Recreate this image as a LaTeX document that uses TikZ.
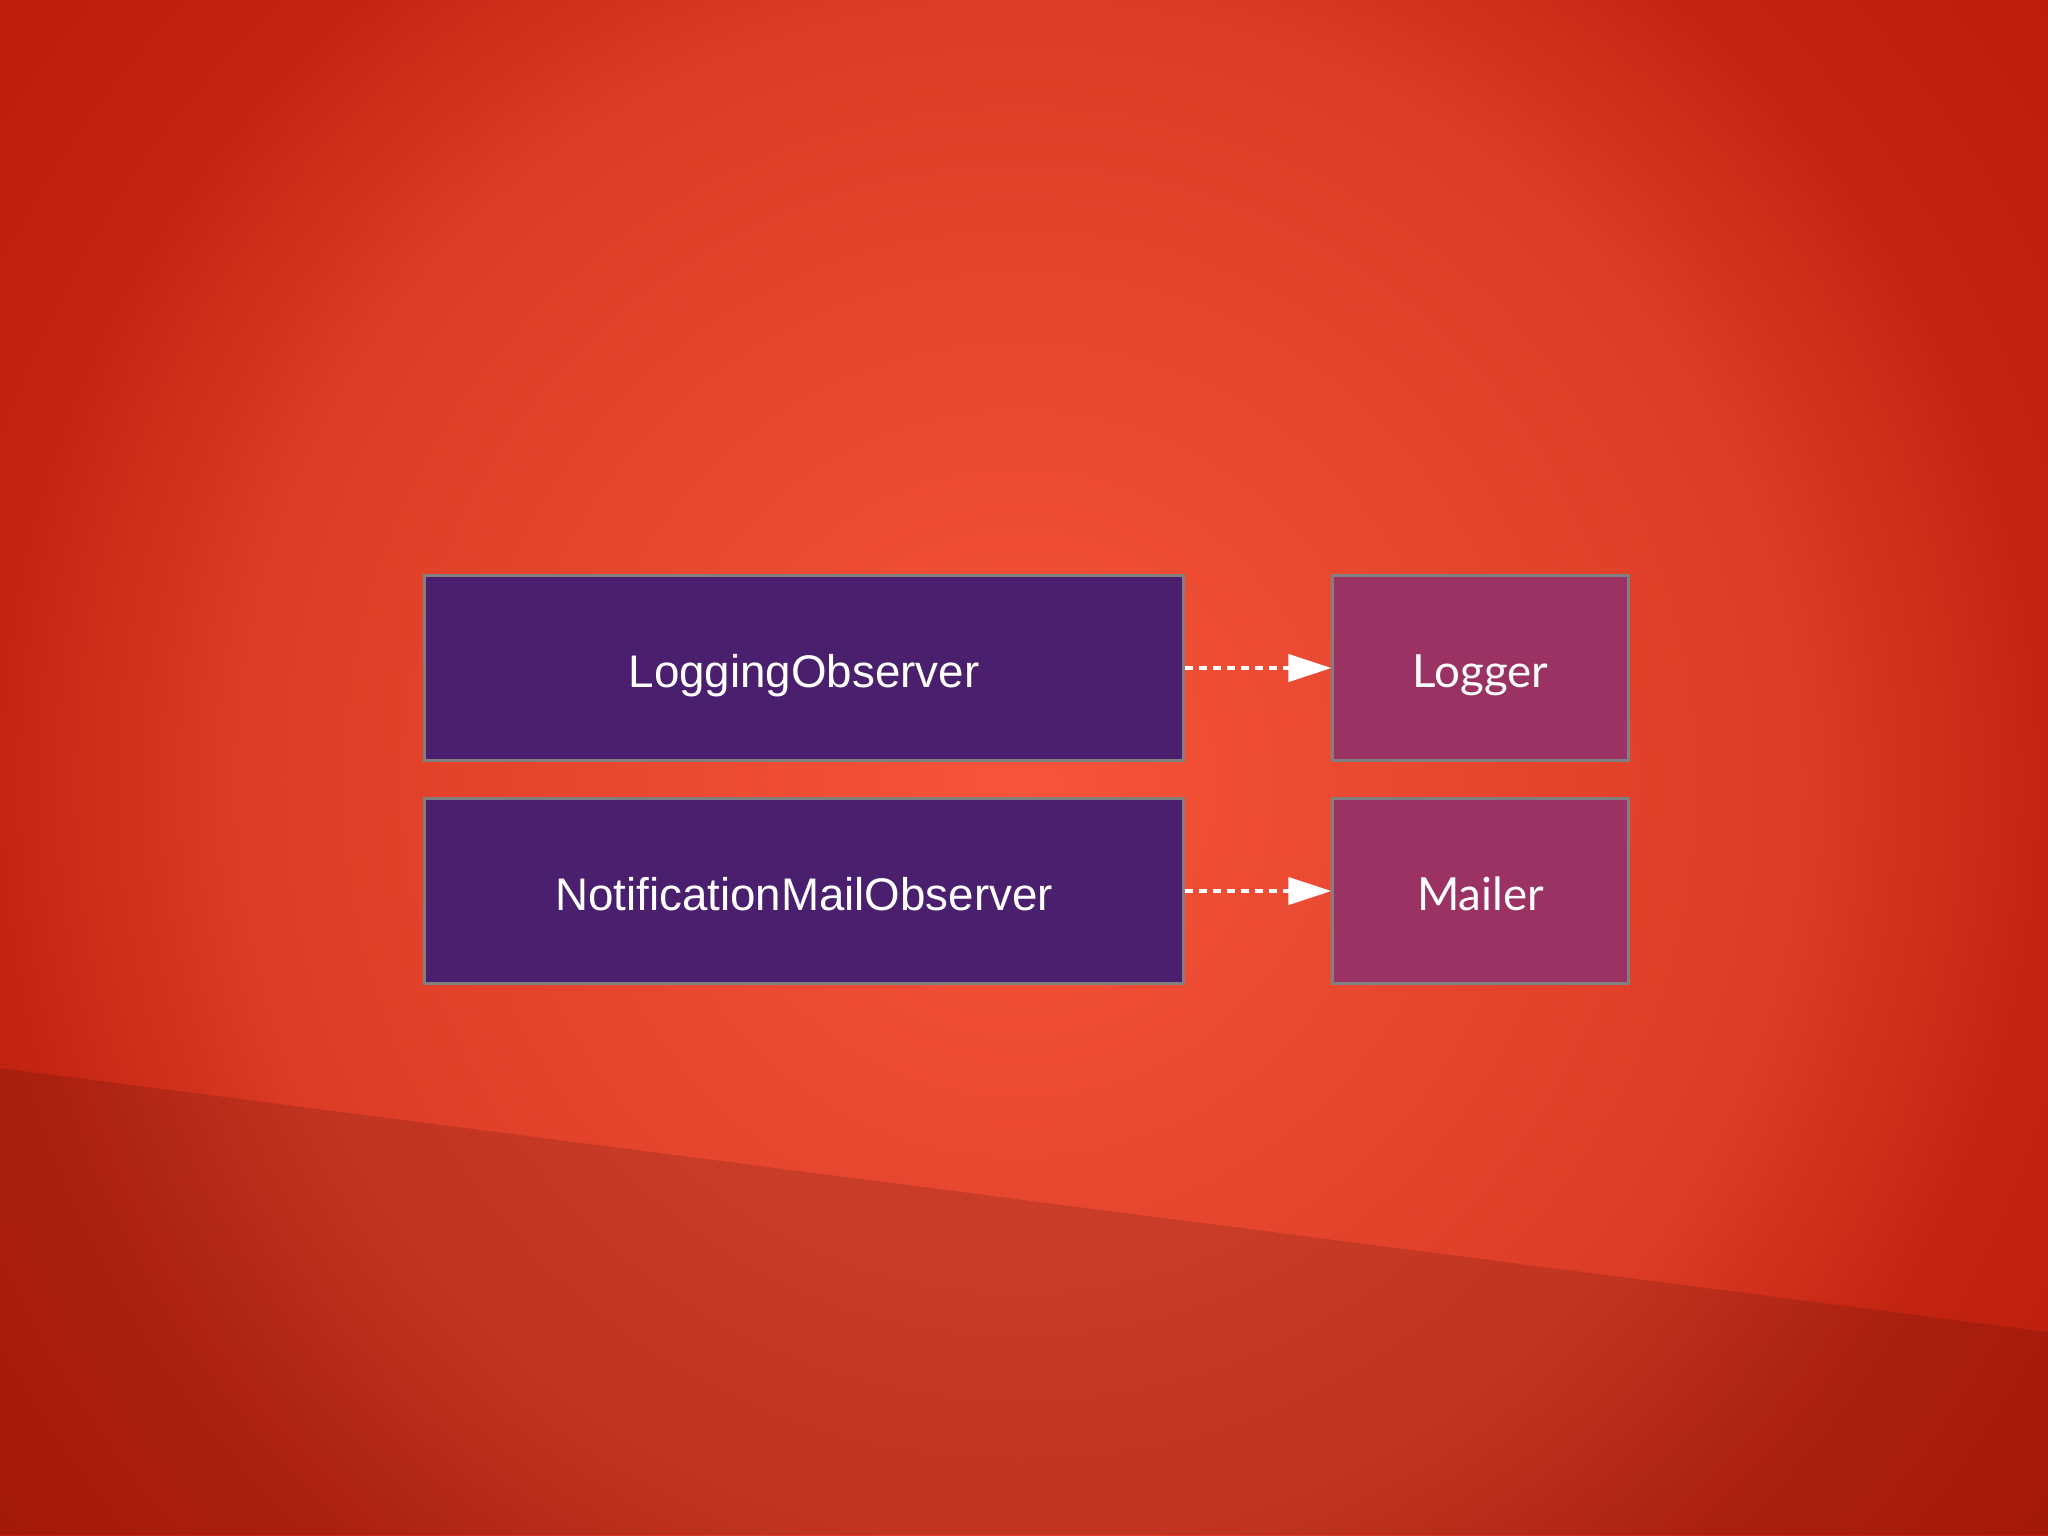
\documentclass[tikz,border=0pt]{standalone}
\usepackage{fontspec}
\setmainfont{Liberation Sans}
\newfontfamily\latofont{Lato}
\usetikzlibrary{arrows.meta}

\definecolor{bgcenter}{HTML}{F6553B}
\definecolor{bgmid}{HTML}{DC3B25}
\definecolor{bgside}{HTML}{C42512}
\definecolor{bgedge}{HTML}{BC1C0B}
\definecolor{observerfill}{HTML}{4A1F6E}
\definecolor{targetfill}{HTML}{9A3264}
\definecolor{boxframe}{HTML}{808080}

\pgfdeclareradialshading{glow}{\pgfpoint{0bp}{0bp}}{color(0bp)=(bgcenter); color(15bp)=(bgmid); color(19.6bp)=(bgside); color(25bp)=(bgedge); color(50bp)=(bgedge)}

\begin{document}
\begin{tikzpicture}[x=0.01cm, y=-0.01cm,
    observerbox/.style={draw=boxframe, line width=0.03cm, fill=observerfill, text=white,
      minimum width=7.58cm, minimum height=1.84cm, text height=12.8pt, text depth=2pt,
      font=\fontsize{13}{15}\selectfont},
    targetbox/.style={draw=boxframe, line width=0.03cm, fill=targetfill, text=white,
      minimum width=2.95cm, minimum height=1.84cm, text height=12.8pt, text depth=2pt,
      font=\latofont\fontsize{13}{15}\selectfont},
    uses/.style={draw=white, line width=0.04cm, dash pattern=on 0.08cm off 0.06cm,
      -{Triangle[length=0.43cm, width=0.27cm, fill=white]}}]
          \useasboundingbox (0,0) rectangle (2048,1535);
          \begin{scope}
            \clip (0,0) rectangle (2048,1535);
            \shade[shading=glow] (1019,783) circle[radius=1300];
          \end{scope}
          \fill[black, opacity=0.13] (0,1068) -- (2048,1332) -- (2048,1535) -- (0,1535) -- cycle;

          \node[observerbox] (log)    at (804,668) {LoggingObserver};
          \node[observerbox] (notify) at (804,891) {NotificationMailObserver};
          \node[targetbox]   (logger) at (1480.5,668) {Logger};
          \node[targetbox]   (mailer) at (1480.5,891) {Mailer};

          \draw[uses] (log.east) -- (logger.west);
          \draw[uses] (notify.east) -- (mailer.west);

        \end{tikzpicture}
\end{document}
